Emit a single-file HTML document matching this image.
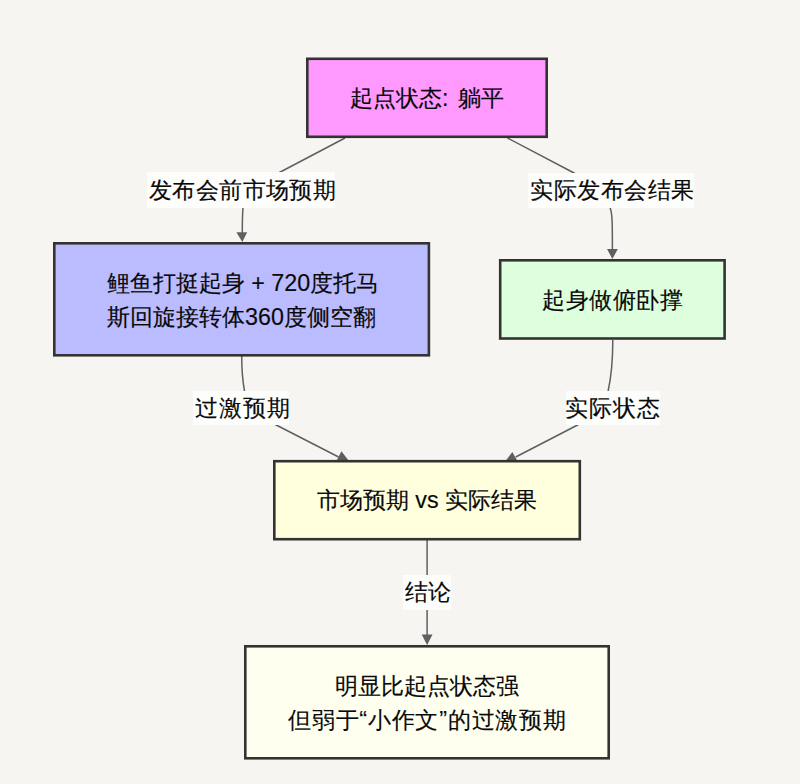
<!DOCTYPE html>
<html><head><meta charset="utf-8">
<style>
html,body{margin:0;padding:0;width:800px;height:784px;overflow:hidden;background:#f6f5f1;}
body{position:relative;font-family:"Liberation Sans",sans-serif;color:#0a0a0a;}
svg{position:absolute;left:0;top:0;}
.t{position:absolute;text-align:center;font-size:23.3px;white-space:nowrap;-webkit-text-stroke:0.15px #000;}
.lb{position:absolute;background:#fdfdfc;text-align:center;font-size:23.3px;white-space:nowrap;-webkit-text-stroke:0.15px #000;}
</style></head><body>
<svg width="800" height="784" viewBox="0 0 800 784">
  <g fill="none" stroke="#5f5f5f" stroke-width="1.5">
    <path d="M345,138 L279.4,172.5 C250,188 243,200 243,208 C242.4,214 242.3,220 242.3,233"/>
    <path d="M507.5,138 L573.1,172.5 C600,188 610,198 610,207.5 C612.2,213 612.4,220 612.4,250"/>
    <path d="M241.7,356 C241.7,370 242.5,380 244.5,391 L244.5,391 C250,410 262,418 276.2,425 L338.6,457"/>
    <path d="M612.8,340 C612.8,360 611,378 608.1,391 C600,410 590,418 577.6,425 L515.7,457"/>
    <path d="M427.1,540 L427.1,636"/>
  </g>
  <g fill="#5f5f5f">
    <path d="M236.4,232.2 L247.2,232.2 L242.3,242 Z"/>
    <path d="M607,248.9 L617.8,248.9 L612.4,259 Z"/>
    <path d="M421.7,634.5 L432.5,634.5 L427.1,645 Z"/>
    <path d="M341.4,451.2 L349,461 L336.5,461 Z"/>
    <path d="M512.3,452 L517.5,461 L505.5,461 Z"/>
  </g>
  <g stroke="#333" stroke-width="2.6">
    <rect x="307.3" y="58.8" width="239.4" height="78" fill="#ff99ff"/>
    <rect x="54.3" y="243.3" width="374.6" height="112" fill="#bbbbff"/>
    <rect x="500.2" y="260.3" width="224.4" height="78.2" fill="#ddffdd"/>
    <rect x="274.3" y="461.2" width="305.5" height="78" fill="#ffffdd"/>
    <rect x="245.3" y="646.3" width="363.4" height="112" fill="#fffff0"/>
  </g>
</svg>
<div class="lb" style="left:146.5px;top:172.3px;width:188.5px;height:36px;line-height:36px;letter-spacing:0.4px;text-indent:2.6px;">发布会前市场预期</div>
<div class="lb" style="left:528.3px;top:173.3px;width:165.5px;height:34.5px;line-height:34.5px;letter-spacing:0.45px;text-indent:2.2px;">实际发布会结果</div>
<div class="lb" style="left:192.5px;top:391px;width:96px;height:33.8px;line-height:34.8px;letter-spacing:1px;text-indent:2.3px;">过激预期</div>
<div class="lb" style="left:565.8px;top:391px;width:94.7px;height:33.8px;line-height:34.8px;letter-spacing:1px;text-indent:-1px;">实际状态</div>
<div class="lb" style="left:402.8px;top:574.8px;width:48px;height:34.8px;line-height:35.2px;text-indent:1.5px;">结论</div>

<div class="t" style="left:306px;top:80px;width:242px;line-height:36px;">起点状态<span style="letter-spacing:1.6px">: </span>躺平</div>
<div class="t" style="left:53px;top:265.5px;width:377px;line-height:34.4px;"><span style="position:relative;left:1.5px">鲤鱼打挺起身 + 720度托马</span><br>斯回旋接转体360度侧空翻</div>
<div class="t" style="left:499px;top:282px;width:227px;line-height:36px;letter-spacing:0.5px;text-indent:0.5px;">起身做俯卧撑</div>
<div class="t" style="left:273px;top:482.2px;width:308px;line-height:36px;">市场预期 vs 实际结果</div>
<div class="t" style="left:244px;top:668.5px;width:366px;line-height:34px;">明显比起点状态强<br><span style="letter-spacing:0.8px;">但弱于“小作文”的过激预</span>期</div>
</body></html>
